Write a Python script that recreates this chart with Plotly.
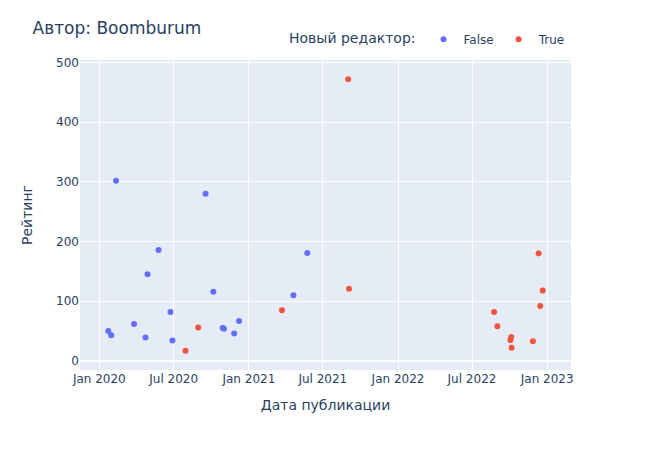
import plotly.graph_objects as go

false_dates = ["2020-01-23", "2020-01-30", "2020-02-11", "2020-03-26", "2020-04-23",
               "2020-04-28", "2020-05-25", "2020-06-23", "2020-06-28", "2020-09-17",
               "2020-10-06", "2020-10-29", "2020-11-01", "2020-11-26", "2020-12-08",
               "2021-04-20", "2021-05-24"]
false_rating = [50, 43, 302, 62, 39, 145, 186, 82, 34, 280, 116, 55, 54, 46, 67, 110, 181]

true_dates = ["2020-07-30", "2020-08-30", "2021-03-23", "2021-09-01", "2021-09-03",
              "2022-08-24", "2022-09-01", "2022-10-05", "2022-10-03", "2022-10-06",
              "2022-11-27", "2022-12-11", "2022-12-15", "2022-12-21"]
true_rating = [17, 56, 85, 472, 121, 82, 58, 40, 35, 22, 33, 180, 92, 118]

fig = go.Figure()
fig.add_trace(go.Scatter(x=false_dates, y=false_rating, mode="markers", name="False",
                         marker=dict(color="#636efa", size=6)))
fig.add_trace(go.Scatter(x=true_dates, y=true_rating, mode="markers", name="True",
                         marker=dict(color="#EF553B", size=6)))

fig.update_layout(
    template="plotly",
    width=651, height=450,
    font=dict(family="Verdana, DejaVu Sans, sans-serif"),
    title=dict(text="Автор: Boomburum", x=0.05, y=0.95),
    margin=dict(l=80, r=80, t=60, b=80),
    legend=dict(title=dict(text="Новый редактор:"), orientation="h",
                yanchor="bottom", y=1.02, xanchor="right", x=1),
    xaxis=dict(title=dict(text="Дата публикации")),
    yaxis=dict(title=dict(text="Рейтинг", standoff=20)),
)
fig.write_html("out.html")
